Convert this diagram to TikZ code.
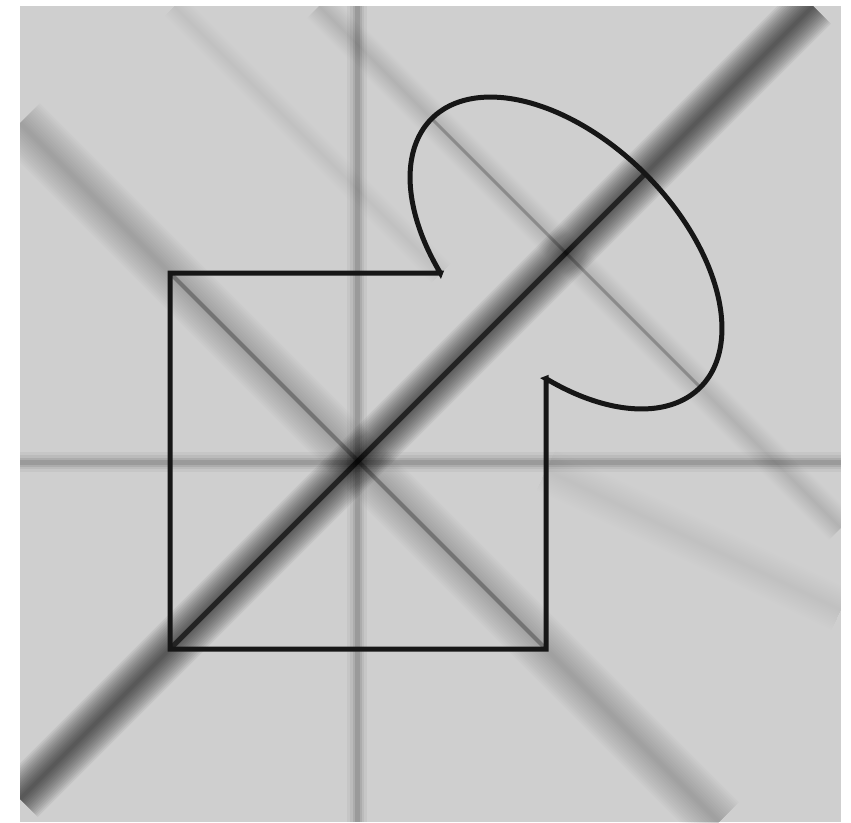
\documentclass[tikz,border=0pt]{standalone}
\usepackage{tikz}
\usetikzlibrary{calc}
\definecolor{ScanGray}{RGB}{207,207,207}
\definecolor{EdgeBlack}{RGB}{22,22,22}

% soft streak: #1 opacity per layer, #2 width factor, #3 and #4 end points
\newcommand{\streak}[4]{%
  \foreach \w in {56,52,...,4}{%
    \draw[haze,opacity=#1,line width=#2*\w*0.02cm] #3 -- #4;}}

\begin{document}
\begin{tikzpicture}[x=0.02cm,y=-0.02cm,
  haze/.style={draw=black,line cap=butt},
  outline/.style={draw=EdgeBlack,line width=0.1cm,line join=miter},
]
\useasboundingbox (0,0) rectangle (851,822);
\fill[white] (0,0) rectangle (851,822);
\fill[ScanGray] (20,6) rectangle (841,822);

% corners of the square, centre of the ellipse
\coordinate (sqTL) at (170,273);
\coordinate (sqBL) at (170,649);
\coordinate (sqBR) at (546,649);
\coordinate (sqTR) at (546,273);
\coordinate (sqC) at (358,461);
\coordinate (elC) at (566,253);

\begin{scope}
\clip (20,6) rectangle (841,822);
% main diagonal
\streak{0.055}{0.9}{(20,799)}{(813,6)}
\draw[haze,opacity=0.6,line width=0.1cm] (sqBL) -- (645,174);
% anti-diagonal
\streak{0.016}{1}{(20,123)}{(719,822)}
\draw[haze,opacity=0.28,line width=0.08cm] (sqTL) -- (sqBR);
% ellipse axis
\streak{0.009}{0.6}{(319,6)}{(841,528)}
\draw[haze,opacity=0.22,line width=0.06cm] (432,119) -- (700,387);
% faint streaks
\streak{0.005}{0.5}{(174,6)}{(441,273)}
\streak{0.003}{0.8}{(546,470)}{(841,610)}
% vertical and horizontal
\foreach \w/\o in {20/0.04,14/0.05,9/0.08,5/0.1}{
  \draw[haze,opacity=\o,line width=\w*0.02cm] (357,6) -- (357,822);
  \draw[haze,opacity=\o,line width=\w*0.02cm] (20,462) -- (841,462);
}
\end{scope}

% outline of square and ellipse
\draw[outline] (440.5,273) -- (sqTL) -- (sqBL) -- (sqBR) -- (546,378.5)
  -- plot[domain=-66.9:246.9,samples=140,smooth,variable=\t]
     ({566+0.7071*(190*cos(\t)+112*sin(\t))},{253+0.7071*(190*cos(\t)-112*sin(\t))})
  -- cycle;
\end{tikzpicture}
\end{document}
